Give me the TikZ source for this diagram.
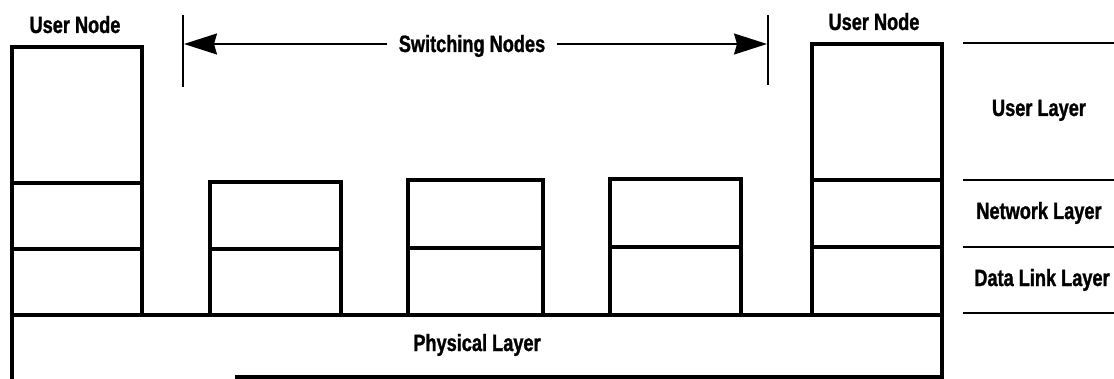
\documentclass[tikz,border=0pt]{standalone}
\usepackage{fontspec}
\newfontfamily\lab{Liberation Sans}[FakeStretch=0.77,FakeBold=1.2]
\usetikzlibrary{arrows.meta}
\begin{document}
\begin{tikzpicture}[x=0.5pt,y=-0.5pt,
  box/.style={line width=1.7pt},
  layerline/.style={line width=1pt},
  tickline/.style={line width=1.1pt},
  span/.style={line width=0.9pt,-{Stealth[length=16.5pt,width=10.5pt,inset=1.5pt]}},
  lbl/.style={font=\lab\bfseries\fontsize{11.8}{13}\selectfont, anchor=base, inner sep=0pt}]
\useasboundingbox (0,0) rectangle (1114,379);

% physical layer
\draw[box] (235,377) -- (942,377) -- (942,315) -- (12,315) -- (12,379);
\node[lbl] (phys) at (477,351) {Physical Layer};

% left user node
\draw[box] (12,315) -- (12,47) -- (142,47) -- (142,315);
\draw[box] (12,183) -- (142,183);
\draw[box] (12,249) -- (142,249);
\node[lbl] (un1) at (75,33) {User Node};

% switching nodes
\foreach \l/\r/\t/\m in {210/341/182/249, 408/543/180/248, 610/741/179/247}{
  \draw[box] (\l,315) -- (\l,\t) -- (\r,\t) -- (\r,315);
  \draw[box] (\l,\m) -- (\r,\m);
}

% right user node
\draw[box] (812,315) -- (812,44) -- (942,44) -- (942,315);
\draw[box] (812,180) -- (942,180);
\draw[box] (812,247) -- (942,247);
\node[lbl] (un2) at (874,30) {User Node};

% span arrow
\draw[tickline] (183,15) -- (183,87);
\draw[tickline] (768,15) -- (768,85);
\coordinate (tl) at (184,44);
\coordinate (tr) at (767,44);
\node[lbl, inner xsep=5.5pt] (sw) at (472,52) {Switching Nodes};
\draw[span] (sw.west |- tl) -- (tl);
\draw[span] (sw.east |- tr) -- (tr);

% layer separators
\draw[layerline] (963,43) -- (1114,43);
\draw[layerline] (963,180) -- (1114,180);
\draw[layerline] (963,247) -- (1114,247);
\draw[layerline] (963,313) -- (1114,313);
\node[lbl] (ul) at (1039,116) {User Layer};
\node[lbl] (nl) at (1039,219) {Network Layer};
\node[lbl] (dl) at (1042,286) {Data Link Layer};
\end{tikzpicture}
\end{document}
